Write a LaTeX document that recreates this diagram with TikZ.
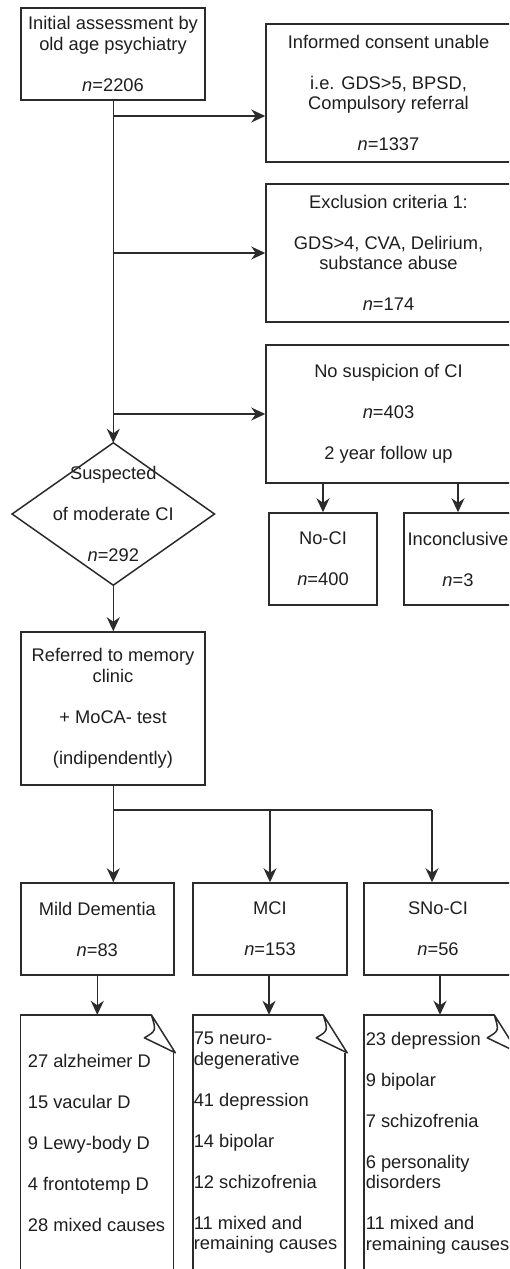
\documentclass[tikz,border=0pt]{standalone}
\usepackage{fontspec}
\setmainfont{Liberation Sans}
\usetikzlibrary{arrows.meta}
\definecolor{lncol}{HTML}{2B2B2B}
\definecolor{txcol}{HTML}{1E1E1E}
\begin{document}
\begin{tikzpicture}[x=1pt,y=-1pt,
  every node/.style={font=\fontsize{18.3pt}{20.5pt}\selectfont, text=txcol},
  box/.style={draw=lncol, line width=1.5pt, rectangle, inner sep=0pt, align=center},
  plain/.style={draw=none, inner sep=0pt},
  lin/.style={draw=lncol, line width=1.5pt},
  arr/.style={draw=lncol, line width=1.5pt, -{Stealth[length=14pt,width=13pt,inset=4.5pt]}}]
\useasboundingbox (0,0) rectangle (509,1269);
\clip (0,0) rectangle (509,1269);

% top boxes
\node[box, minimum width=184.3pt, minimum height=92pt] (init) at (113,54)
  {Initial assessment by\\ old age psychiatry\\[20.5pt] \textit{n}=2206};
\node[box, minimum width=245pt, minimum height=138pt] (cons) at (388.5,93)
  {Informed consent unable\\[20.5pt] i.e. GDS>5, BPSD,\\ Compulsory referral\\[20.5pt] \textit{n}=1337};
\node[box, minimum width=245pt, minimum height=138pt] (excl) at (388.5,253)
  {Exclusion criteria 1:\\[20.5pt] GDS>4, CVA, Delirium,\\ substance abuse\\[20.5pt] \textit{n}=174};
\node[box, minimum width=245pt, minimum height=138pt] (nosus) at (388.5,414)
  {No suspicion of CI\\[20.5pt] \textit{n}=403\\[20.5pt] 2 year follow up};

% diamond
\node[plain, minimum width=202pt, minimum height=142pt, align=center] (diam) at (113.3,514)
  {Suspected\\[20.5pt] of moderate CI\\[20.5pt] \textit{n}=292};
\draw[lin] (diam.north) -- (diam.east) -- (diam.south) -- (diam.west) -- cycle;

\node[box, minimum width=108pt, minimum height=92pt] (noci) at (323,559)
  {No-CI\\[20.5pt] \textit{n}=400};
\node[box, minimum width=108pt, minimum height=92pt] (inc) at (458,559)
  {Inconclusive\\[20.5pt] \textit{n}=3};

\node[box, minimum width=184.3pt, minimum height=153pt] (ref) at (113,708.5)
  {Referred to memory\\ clinic\\[20.5pt] + MoCA- test\\[20.5pt] (indipendently)};

\node[box, minimum width=153pt, minimum height=92pt] (mild) at (97.3,929)
  {Mild Dementia\\[20.5pt] \textit{n}=83};
\node[box, minimum width=154pt, minimum height=92pt] (mci) at (270,929)
  {MCI\\[20.5pt] \textit{n}=153};
\node[box, minimum width=148pt, minimum height=92pt] (snoci) at (438,929)
  {SNo-CI\\[20.5pt] \textit{n}=56};

% document shapes
\node[plain, minimum width=152.3pt, minimum height=256pt] (d1) at (97,1143) {};
\node[plain, minimum width=152pt, minimum height=256pt] (d2) at (269,1143) {};
\node[plain, minimum width=152pt, minimum height=256pt] (d3) at (440,1143) {};
\foreach \d in {d1,d2,d3}{
  \draw[lin] ([xshift=-22pt]\d.north east) -- (\d.north west) -- (\d.south west)
     -- (\d.south east) -- ([yshift=-38pt]\d.north east);
  \draw[lin, line join=round] ([xshift=-22pt]\d.north east)
     .. controls ([xshift=-17pt,yshift=-16pt]\d.north east) .. ([xshift=-29pt,yshift=-23pt]\d.north east)
     -- ([xshift=2pt,yshift=-38pt]\d.north east) -- cycle;
}
\node[plain, align=left] (t1) at (96.5,1143)
  {27 alzheimer D\\[20.5pt] 15 vacular D\\[20.5pt] 9 Lewy-body D\\[20.5pt] 4 frontotemp D\\[20.5pt] 28 mixed causes};
\node[plain, align=left] (t2) at (265.5,1143)
  {75 neuro-\\ degenerative\\[20.5pt] 41 depression\\[20.5pt] 14 bipolar\\[20.5pt] 12 schizofrenia\\[20.5pt] 11 mixed and\\ remaining causes};
\node[plain, align=left] (t3) at (437.5,1143)
  {23 depression\\[20.5pt] 9 bipolar\\[20.5pt] 7 schizofrenia\\[20.5pt] 6 personality\\ disorders\\[20.5pt] 11 mixed and\\ remaining causes};

% connectors
\coordinate (j1) at (113.3,116);
\coordinate (j2) at (113.3,253);
\coordinate (j3) at (113.3,414);
\coordinate (j4) at (113.3,810);
\coordinate (j5) at (432,810);
\draw[arr] (init.south -| diam.north) -- (diam.north);
\draw[arr] (j1) -- (j1 -| cons.west);
\draw[arr] (j2) -- (excl.west);
\draw[arr] (j3) -- (nosus.west);
\draw[arr] (noci.north |- nosus.south) -- (noci.north);
\draw[arr] (inc.north |- nosus.south) -- (inc.north);
\draw[arr] (diam.south) -- (diam.south |- ref.north);
\draw[lin] (ref.south -| j4) -- (j4) -- (j5);
\draw[arr] (j4) -- (j4 |- mild.north);
\draw[arr] (j4 -| mci.north) -- (mci.north);
\draw[arr] (j5) -- (j5 |- snoci.north);
\draw[arr] (mild.south) -- (mild.south |- d1.north);
\draw[arr] (mci.south -| d2.north) -- (d2.north);
\draw[arr] (d3.north |- snoci.south) -- (d3.north);
\end{tikzpicture}
\end{document}
